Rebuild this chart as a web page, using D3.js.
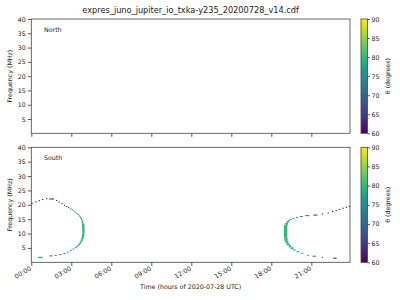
<!DOCTYPE html>
<html><head><meta charset="utf-8">
<script src="https://cdn.jsdelivr.net/npm/d3@7"></script>
<style>body{margin:0;background:#fff}svg{display:block}text{font-family:"DejaVu Sans",sans-serif;fill:#222}</style>
</head><body><svg id="c" width="400" height="300"></svg>
<script>
const title = "expres_juno_jupiter_io_txka-y235_20200728_v14.cdf";
const panels = ["North", "South"];
const xTicks = [0, 3, 6, 9, 12, 15, 18, 21];
const xTickLabels = ["00:00","03:00","06:00","09:00","12:00","15:00","18:00","21:00"];
const yTicks = [5, 10, 15, 20, 25, 30, 35, 40];
const cbTicks = [60, 65, 70, 75, 80, 85, 90];
// South cells: time start/end (h), freq low/high (MHz), theta (deg)
const southT0 = [0.00,0.30,0.55,0.80,1.10,1.35,1.85,2.05,2.25,2.45,2.60,2.75,2.90,3.02,3.15,3.27,3.38,3.48,3.57,3.65,3.72,3.78,3.80,3.82,3.80,3.76,3.70,3.62,3.52,3.40,3.27,3.10,2.90,2.68,2.40,2.10,1.75,1.35,0.50,
  18.95,19.05,19.15,19.28,19.42,19.58,19.85,20.15,20.55,21.15,21.78,22.22,22.55,22.82,23.08,23.33,23.58,23.80,
  18.98,19.05,19.15,19.30,19.45,19.65,19.90,20.25,20.70,21.10,21.78,22.65];
const southT1 = [0.10,0.40,0.65,0.90,1.20,1.70,1.95,2.15,2.35,2.55,2.70,2.85,3.00,3.12,3.25,3.37,3.48,3.58,3.67,3.75,3.82,3.90,3.98,4.00,3.98,3.92,3.85,3.76,3.66,3.54,3.40,3.22,3.02,2.80,2.55,2.25,1.90,1.60,0.85,
  19.20,19.25,19.32,19.42,19.55,19.72,20.00,20.35,20.85,21.45,21.88,22.32,22.65,22.92,23.18,23.43,23.68,23.90,
  19.22,19.28,19.38,19.50,19.65,19.82,20.08,20.40,20.82,21.35,21.88,22.90];
const southF0 = [20.3,20.9,21.3,21.7,22.0,21.9,21.4,20.9,20.3,19.7,19.3,18.9,18.5,18.1,17.7,17.3,16.9,16.4,15.9,15.3,14.6,13.5,12.0,10.0,8.8,8.0,7.2,6.5,5.9,5.4,4.9,4.4,3.9,3.4,2.9,2.6,2.3,2.1,1.6,
  8.5,13.0,13.8,14.4,14.8,15.1,15.5,15.8,16.1,16.3,16.7,17.0,17.6,17.9,18.3,18.7,19.0,19.3,
  7.4,6.6,5.9,5.2,4.6,4.1,3.6,3.0,2.3,2.0,1.6,1.3];
const southF1 = [20.7,21.2,21.6,22.0,22.3,22.2,21.7,21.2,20.6,20.0,19.6,19.2,18.8,18.4,18.0,17.6,17.2,16.8,16.3,15.9,15.3,14.6,13.5,12.0,10.0,8.8,8.0,7.2,6.5,5.9,5.4,4.8,4.3,3.7,3.2,2.9,2.6,2.4,1.9,
  13.0,13.8,14.4,14.8,15.1,15.4,15.8,16.1,16.4,16.6,17.0,17.3,17.9,18.2,18.6,19.0,19.3,19.6,
  8.5,7.4,6.6,5.9,5.2,4.5,3.9,3.3,2.6,2.3,1.9,1.6];
const southTheta = [61,61,61,61,61,61,62,62,63,64,66,68,70,71,73,74,75,76,77,78,79,80,80,80,80,80,80,79,79,78,77,76,75,74,73,73,73,73,72,
  80,80,79,78,77,76,74,73,70,64,61,61,61,61,61,61,61,61,
  80,80,79,79,78,76,75,74,73,71,66,62];
const northT0 = [], northT1 = [], northF0 = [], northF1 = [], northTheta = [];

const svg = d3.select("#c");
const X0 = 31.3, X1 = 350;
const x = d3.scaleLinear().domain([0, 23.9]).range([X0, X1]);
const color = d3.scaleSequential(d3.interpolateViridis).domain([60, 90]);
const fs = 6.3;
const panelY = [[19, 133.3], [147.3, 262.3]];
const data = [
  {t0: northT0, t1: northT1, f0: northF0, f1: northF1, th: northTheta},
  {t0: southT0, t1: southT1, f0: southF0, f1: southF1, th: southTheta}
];

svg.append("text").attr("x", (X0 + X1) / 2).attr("y", 12.5).attr("text-anchor", "middle")
  .style("font-size", "8.2px").text(title);

const defs = svg.append("defs");
const grad = defs.append("linearGradient").attr("id", "vir").attr("x1", 0).attr("y1", 1).attr("x2", 0).attr("y2", 0);
d3.range(0, 1.0001, 0.05).forEach(s => grad.append("stop").attr("offset", s).attr("stop-color", d3.interpolateViridis(s)));

panelY.forEach((py, i) => {
  const y = d3.scaleLinear().domain([0, 40]).range([py[1], py[0]]);
  const g = svg.append("g");
  const d = data[i];
  g.selectAll("rect.cell").data(d.th.map((v, k) => k)).join("rect")
    .attr("x", k => x(d.t0[k]))
    .attr("width", k => Math.max(1, x(d.t1[k]) - x(d.t0[k])))
    .attr("y", k => y(d.f1[k]))
    .attr("height", k => Math.max(1, y(d.f0[k]) - y(d.f1[k])))
    .attr("fill", k => color(d.th[k]));

  const yAxis = d3.axisLeft(y).tickValues(yTicks).tickSize(3.5).tickPadding(2);
  const ya = g.append("g").attr("transform", `translate(${X0},0)`).call(yAxis);
  const xAxis = d3.axisBottom(x).tickValues(xTicks).tickSize(3.5).tickFormat((v, j) => i === 1 ? xTickLabels[j] : "");
  const xa = g.append("g").attr("transform", `translate(0,${py[1]})`).call(xAxis);
  [ya, xa].forEach(a => {
    a.select(".domain").remove();
    a.selectAll("line").attr("stroke", "#333").attr("stroke-width", 0.8);
    a.selectAll("text").style("font-size", fs + "px").attr("fill", "#222");
  });
  if (i === 1) {
    xa.selectAll("text").attr("text-anchor", "end").attr("dy", null).attr("y", 0)
      .attr("transform", "translate(0,7.5) rotate(-30)");
  }
  g.append("rect").attr("x", X0).attr("y", py[0]).attr("width", X1 - X0).attr("height", py[1] - py[0])
    .attr("fill", "none").attr("stroke", "#444").attr("stroke-width", 0.8);
  g.append("text").attr("x", 44).attr("y", py[0] + 12.5).style("font-size", fs + "px").text(panels[i]);
  g.append("text").attr("transform", `translate(11.5,${(py[0] + py[1]) / 2}) rotate(-90)`)
    .attr("text-anchor", "middle").style("font-size", fs + "px").text("Frequency (MHz)");

  // colorbar
  const cy = d3.scaleLinear().domain([60, 90]).range([py[1], py[0]]);
  const cb = svg.append("g");
  cb.append("rect").attr("x", 361).attr("y", py[0]).attr("width", 6.5).attr("height", py[1] - py[0])
    .attr("fill", "url(#vir)").attr("stroke", "#444").attr("stroke-width", 0.8);
  const ca = cb.append("g").attr("transform", "translate(367.5,0)").call(d3.axisRight(cy).tickValues(cbTicks).tickSize(2.5).tickPadding(1.5));
  ca.select(".domain").remove();
  ca.selectAll("line").attr("stroke", "#333").attr("stroke-width", 0.8);
  ca.selectAll("text").style("font-size", fs + "px").attr("fill", "#222");
  cb.append("text").attr("transform", `translate(390,${(py[0] + py[1]) / 2}) rotate(-90)`)
    .attr("text-anchor", "middle").style("font-size", fs + "px").text("θ (degrees)");
});

svg.append("text").attr("x", (X0 + X1) / 2).attr("y", 289).attr("text-anchor", "middle")
  .style("font-size", fs + "px").text("Time (hours of 2020-07-28 UTC)");
</script></body></html>
